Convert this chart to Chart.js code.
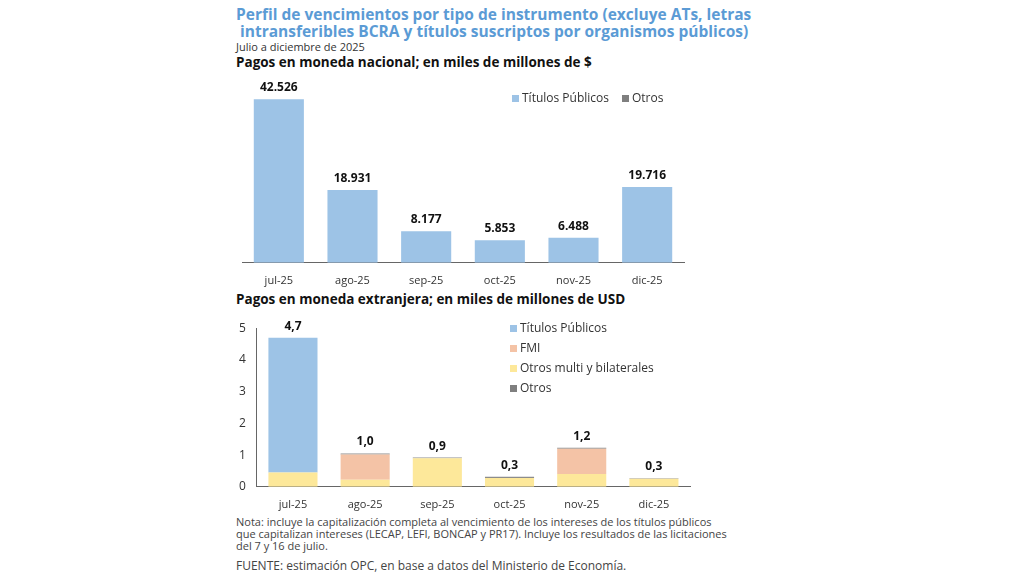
<!DOCTYPE html>
<html><head><meta charset="utf-8">
<script src="https://cdn.jsdelivr.net/npm/chart.js@4"></script>
<style>
body{margin:0;width:1024px;height:576px;background:#fff;font-family:"Open Sans",sans-serif;position:relative;overflow:hidden}
.t{position:absolute;left:236px;color:#5b9bd5;font-weight:bold;font-size:15.5px;line-height:17px;top:6px}
.s{position:absolute;left:236px;top:39px;font-size:11px;color:#333}
.h{position:absolute;left:236px;font-weight:bold;font-size:13.5px;color:#111}
.n{position:absolute;left:236px;font-size:11px;color:#444;line-height:12px}
.c{position:absolute}
</style></head><body>
<div class="t">Perfil de vencimientos por tipo de instrumento (excluye ATs, letras<br>&nbsp;intransferibles BCRA y títulos suscriptos por organismos públicos)</div>
<div class="s">Julio a diciembre de 2025</div>
<div class="h" style="top:53px">Pagos en moneda nacional; en miles de millones de $</div>
<div class="c" style="left:236px;top:74px;width:460px;height:216px"><canvas id="c1"></canvas></div>
<div class="h" style="top:290px">Pagos en moneda extranjera; en miles de millones de USD</div>
<div class="c" style="left:236px;top:318px;width:460px;height:196px"><canvas id="c2"></canvas></div>
<div class="n" style="top:516px">Nota: incluye la capitalización completa al vencimiento de los intereses de los títulos públicos<br>que capitalizan intereses (LECAP, LEFI, BONCAP y PR17). Incluye los resultados de las licitaciones<br>del 7 y 16 de julio.</div>
<div class="n" style="top:560px;font-size:12px">FUENTE: estimación OPC, en base a datos del Ministerio de Economía.</div>
<script>
const months = ['jul-25', 'ago-25', 'sep-25', 'oct-25', 'nov-25', 'dic-25']
const natTitulos = [42526, 18931, 8177, 5853, 6488, 19716]
const natOtros = [0, 0, 0, 0, 0, 0]
const extTitulos = [4.25, 0, 0, 0, 0, 0]
const extFmi = [0, 0.8, 0, 0, 0.8, 0]
const extMulti = [0.45, 0.22, 0.9, 0.28, 0.4, 0.25]
const extOtros = [0, 0.03, 0.02, 0.04, 0.03, 0.02]
const extTotals = ['4,7', '1,0', '0,9', '0,3', '1,2', '0,3']
const natLabels = ['42.526', '18.931', '8.177', '5.853', '6.488', '19.716']

const font = {family: 'Open Sans', size: 11}
Chart.defaults.color = '#333'
Chart.defaults.animation = false

function totalsPlugin (labels) {
  return {
    id: 'totals',
    afterDatasetsDraw (chart) {
      const ctx = chart.ctx
      const metas = chart.data.datasets.map((d, i) => chart.getDatasetMeta(i))
      ctx.save()
      ctx.font = 'bold 12px "Open Sans"'
      ctx.fillStyle = '#111'
      ctx.textAlign = 'center'
      labels.forEach(function (lab, i) {
        let top = Infinity
        metas.forEach(function (m) { top = Math.min(top, m.data[i].y) })
        ctx.fillText(lab, metas[0].data[i].x, top - 8)
      })
      ctx.restore()
    }
  }
}

function legendPlugin (items, x0, y0, dx, dy) {
  return {
    id: 'sideLegend',
    afterDraw (chart) {
      const ctx = chart.ctx
      ctx.save()
      ctx.font = '12px "Open Sans"'
      ctx.textBaseline = 'middle'
      items.forEach(function (it, i) {
        const x = x0 + i * dx
        const y = y0 + i * dy
        ctx.fillStyle = it[1]
        ctx.fillRect(x, y - 4, 7, 7)
        ctx.fillStyle = '#333'
        ctx.fillText(it[0], x + 10, y)
      })
      ctx.restore()
    }
  }
}

new Chart(document.getElementById('c1'), {
  type: 'bar',
  data: {
    labels: months,
    datasets: [
      {label: 'Títulos Públicos', data: natTitulos, backgroundColor: '#9dc3e6'},
      {label: 'Otros', data: natOtros, backgroundColor: '#7f7f7f'}
    ]
  },
  options: {
    responsive: true, maintainAspectRatio: false,
    layout: {padding: {top: 6, right: 12, left: 6}},
    plugins: {legend: {display: false}, tooltip: {enabled: false}},
    scales: {
      x: {stacked: true, grid: {display: false}, ticks: {font: font}, border: {color: '#666'}},
      y: {stacked: true, display: false, min: 0, max: 47500}
    },
    datasets: {bar: {categoryPercentage: 0.68, barPercentage: 1}}
  },
  plugins: [totalsPlugin(natLabels), legendPlugin([['Títulos Públicos', '#9dc3e6'], ['Otros', '#7f7f7f']], 276, 25, 110, 0)]
})

new Chart(document.getElementById('c2'), {
  type: 'bar',
  data: {
    labels: months,
    datasets: [
      {label: 'Otros multi y bilaterales', data: extMulti, backgroundColor: '#fde89a'},
      {label: 'FMI', data: extFmi, backgroundColor: '#f4c3a6'},
      {label: 'Títulos Públicos', data: extTitulos, backgroundColor: '#9dc3e6'},
      {label: 'Otros', data: extOtros, backgroundColor: '#8c8c8c'}
    ]
  },
  options: {
    responsive: true, maintainAspectRatio: false,
    layout: {padding: {right: 6}},
    plugins: {legend: {display: false}, tooltip: {enabled: false}},
    scales: {
      x: {stacked: true, grid: {display: false}, ticks: {font: font}, border: {color: '#666'}},
      y: {stacked: true, min: 0, max: 5, grid: {display: false},
        ticks: {stepSize: 1, font: {family: 'Open Sans', size: 12}}, border: {color: '#666'}}
    },
    datasets: {bar: {categoryPercentage: 0.68, barPercentage: 1}}
  },
  plugins: [totalsPlugin(extTotals), legendPlugin([['Títulos Públicos', '#9dc3e6'], ['FMI', '#f4c3a6'],
    ['Otros multi y bilaterales', '#fde89a'], ['Otros', '#7f7f7f']], 274, 11, 0, 20)]
})
</script>
</body></html>
